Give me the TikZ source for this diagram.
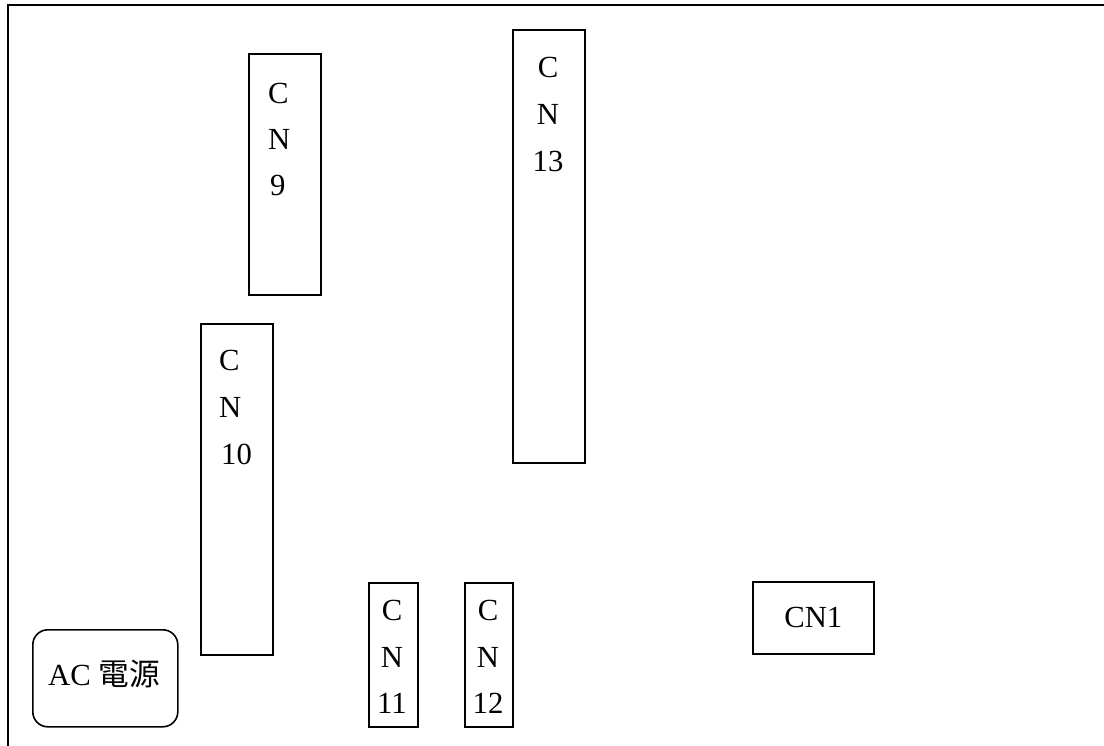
\documentclass[tikz,border=0pt]{standalone}
\usepackage{fontspec}
\setmainfont{Liberation Serif}
\newfontfamily\cjk{Noto Sans CJK TC}
\begin{document}
\begin{tikzpicture}[x=1pt,y=-1pt,
  box/.style={draw, line width=1.6pt, inner sep=0pt, anchor=north west},
  lbl/.style={inner sep=0pt, font=\fontsize{30.7}{36}\selectfont}]
\useasboundingbox (0,0) rectangle (1104,746);
% frame (cropped at right and bottom)
\draw[line width=1.8pt] (8,746) -- (8,5) -- (1104,5);
% connectors
\node[box, minimum width=72, minimum height=241] (cn9) at (248,53) {};
\node[box, minimum width=72, minimum height=433] (cn13) at (512,29) {};
\node[box, minimum width=72, minimum height=331] (cn10) at (200,323) {};
\node[box, minimum width=49, minimum height=144] (cn11) at (368,582) {};
\node[box, minimum width=48, minimum height=144] (cn12) at (464,582) {};
\node[box, minimum width=121, minimum height=72] (cn1) at (752,581) {};
\node[box, rounded corners=15pt, minimum width=145, minimum height=97] (ac) at (32,629) {};
% labels
\node[lbl, anchor=west] (cn9a) at (268,93) {C};
\node[lbl, anchor=west] (cn9b) at (268,139) {N};
\node[lbl, anchor=west] (cn9c) at (270,185) {9};
\node[lbl] (cn13a) at (548,67) {C};
\node[lbl] (cn13b) at (548,114) {N};
\node[lbl] (cn13c) at (548,161) {13};
\node[lbl, anchor=west] (cn10a) at (219,360) {C};
\node[lbl, anchor=west] (cn10b) at (219,407) {N};
\node[lbl, anchor=west] (cn10c) at (221,454) {10};
\node[lbl] (cn11a) at (392,610) {C};
\node[lbl] (cn11b) at (392,657) {N};
\node[lbl] (cn11c) at (392,703) {11};
\node[lbl] (cn12a) at (488,610) {C};
\node[lbl] (cn12b) at (488,657) {N};
\node[lbl] (cn12c) at (488,703) {12};
\node[lbl] (cn1t) at (cn1.center) {CN1};
\node[lbl] (act) at (104,674) {AC {\cjk 電源}};
\end{tikzpicture}
\end{document}
